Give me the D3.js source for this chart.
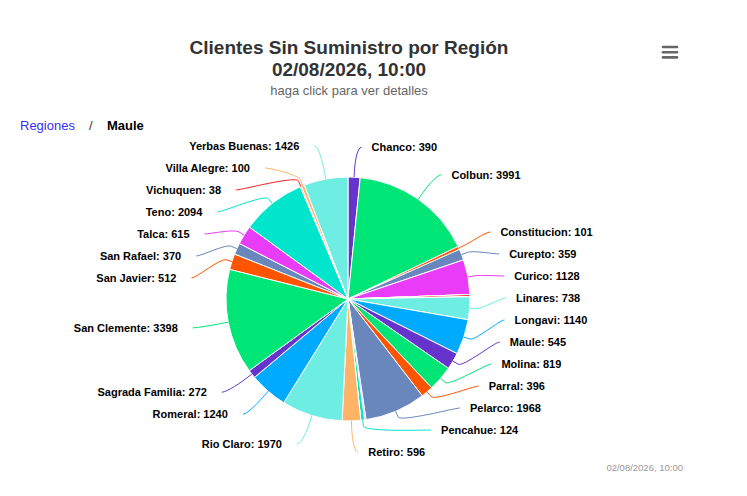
<!DOCTYPE html>
<html>
<head>
<meta charset="utf-8">
<script src="https://cdn.jsdelivr.net/npm/d3@7"></script>
<style>
  body { margin: 0; background: #fff; }
  svg { font-family: "Liberation Sans", Arial, Helvetica, sans-serif; display: block; }
</style>
</head>
<body>
<svg id="chart"></svg>
<script>
// comunas de la region del Maule, en el orden del grafico
const comunas = ["Chanco", "Colbun", "Constitucion", "Curepto", "Curico", "Empedrado", "Hualañe",
    "Licanten", "Linares", "Longavi", "Maule", "Molina", "Parral", "Pelarco", "Pelluhue", "Pencahue",
    "Rauco", "Retiro", "Rio Claro", "Romeral", "Sagrada Familia", "San Clemente", "San Javier",
    "San Rafael", "Talca", "Teno", "Vichuquen", "Villa Alegre", "Yerbas Buenas"];
const clientes = [390, 3991, 101, 359, 1128, 0, 70, 0, 738, 1140, 545, 819, 396, 1968, 45, 124,
    0, 596, 1970, 1240, 272, 3398, 512, 370, 615, 2094, 38, 100, 1426];
const palette = ["#6633cc", "#00e676", "#ff5500", "#6a87bd", "#e83cf8",
    "#00e5cc", "#ff2020", "#ffb366", "#6eeee2", "#00aaff"];

const titleLines = ["Clientes Sin Suministro por Región", "02/08/2026, 10:00"];
const subtitle = "haga click para ver detalles";
const breadcrumb = ["Regiones", "Maule"];
const credits = "02/08/2026, 10:00";

// layout
const W = 747, H = 496;
const cx = 348, cy = 299, r = 122;
const labelDist = 30, lineH = 22;
const labelTop = 146, labelBottom = 452;

const svg = d3.select("#chart").attr("width", W).attr("height", H);

// titles
const title = svg.append("text")
    .attr("text-anchor", "middle")
    .style("font-size", "19px").style("font-weight", "bold").attr("fill", "#333333");
titleLines.forEach((t, i) => {
    title.append("tspan").attr("x", 349).attr("y", 54 + i * 22).text(t);
});
svg.append("text")
    .attr("x", 349).attr("y", 94.5)
    .attr("text-anchor", "middle")
    .style("font-size", "13px").attr("fill", "#666666")
    .text(subtitle);

// breadcrumbs
svg.append("text").attr("x", 20).attr("y", 129.5)
    .style("font-size", "13px").attr("fill", "#3b2dfc").text(breadcrumb[0]);
svg.append("text").attr("x", 89).attr("y", 129.5)
    .style("font-size", "13px").attr("fill", "#333").text("/");
svg.append("text").attr("x", 107).attr("y", 129.5)
    .style("font-size", "13px").style("font-weight", "bold").attr("fill", "#000").text(breadcrumb[1]);

// menu button
svg.append("g").selectAll("line")
    .data([47, 52.2, 57.4])
    .join("line")
    .attr("x1", 663).attr("x2", 677)
    .attr("y1", d => d).attr("y2", d => d)
    .attr("stroke", "#666").attr("stroke-width", 2.6).attr("stroke-linecap", "round");

// credits
svg.append("text").attr("x", 683).attr("y", 471)
    .attr("text-anchor", "end")
    .style("font-size", "9.5px").attr("fill", "#999999")
    .text(credits);

// pie
const data = comunas.map((name, i) => ({ name, value: clientes[i], color: palette[i % palette.length] }));
const pie = d3.pie().sort(null).value(d => d.value);
const arcs = pie(data);
const arc = d3.arc().innerRadius(0).outerRadius(r);

const chart = svg.append("g").attr("transform", `translate(${cx},${cy})`);
chart.selectAll("path")
    .data(arcs)
    .join("path")
    .attr("d", arc)
    .attr("fill", d => d.data.color)
    .attr("stroke", "#fff")
    .attr("stroke-width", 1)
    .attr("stroke-linejoin", "round");

// data labels (placed like highcharts: per side, pushed apart, smallest dropped when no room)
const labels = arcs.map(d => {
    const a = (d.startAngle + d.endAngle) / 2;
    return { d, a, right: a < Math.PI, ny: cy - Math.cos(a) * (r + labelDist) };
});

function placeSide(items) {
    const cap = Math.floor((labelBottom - labelTop) / lineH);
    if (items.length > cap) {
        const keep = items.slice().sort((p, q) => q.d.value - p.d.value).slice(0, cap);
        items = items.filter(l => keep.includes(l));
    }
    items.sort((p, q) => p.ny - q.ny);

    const clusters = items.map(l => ({ items: [l], top: 0 }));
    const position = c => {
        const span = (c.items.length - 1) * lineH;
        let top = d3.mean(c.items, l => l.ny) - span / 2;
        top = Math.max(labelTop, Math.min(top, labelBottom - span));
        c.top = top;
    };
    let merged = true;
    while (merged) {
        merged = false;
        clusters.forEach(position);
        for (let i = 0; i < clusters.length - 1; i++) {
            const c = clusters[i], n = clusters[i + 1];
            // a little slack so nearly touching groups join up
            if (c.top + c.items.length * lineH > n.top - 5) {
                c.items = c.items.concat(n.items);
                clusters.splice(i + 1, 1);
                merged = true;
                break;
            }
        }
    }
    clusters.forEach(c => c.items.forEach((l, j) => { l.y = c.top + j * lineH; }));
    return items;
}

const shown = placeSide(labels.filter(l => l.right)).concat(placeSide(labels.filter(l => !l.right)));

const R = r + labelDist;
shown.forEach(l => {
    // labels stuck at the top/bottom edge keep their natural y for the x position
    const atEdge = Math.abs(l.y - labelTop) < 2 || Math.abs(l.y - labelBottom) < 2;
    const dy = (atEdge ? l.ny : l.y) - cy;
    const dx = Math.sqrt(Math.max(0, R * R - dy * dy)) + 6;
    l.x = l.right ? cx + dx : cx - dx;
    l.tx = l.right ? l.x + 10 : l.x - 15;
});

const connectors = svg.append("g");
shown.forEach(l => {
    const tX = cx + Math.sin(l.a) * r, tY = cy - Math.cos(l.a) * r;
    const bX = cx + Math.sin(l.a) * (r + 6), bY = cy - Math.cos(l.a) * (r + 6);
    const p = d3.path();
    p.moveTo(l.x, l.y);
    p.bezierCurveTo(l.x + (l.right ? -5 : 5), l.y, 2 * bX - tX, 2 * bY - tY, bX, bY);
    p.lineTo(tX, tY);
    connectors.append("path")
        .attr("d", p.toString())
        .attr("fill", "none")
        .attr("stroke", l.d.data.color)
        .attr("stroke-width", 1);
});

svg.append("g").selectAll("text")
    .data(shown)
    .join("text")
    .attr("x", l => l.tx)
    .attr("y", l => l.y + 4)
    .attr("text-anchor", l => l.right ? "start" : "end")
    .style("font-size", "11px")
    .style("font-weight", "bold")
    .attr("fill", "#000")
    .text(l => `${l.d.data.name}: ${l.d.data.value}`);
</script>
</body>
</html>
